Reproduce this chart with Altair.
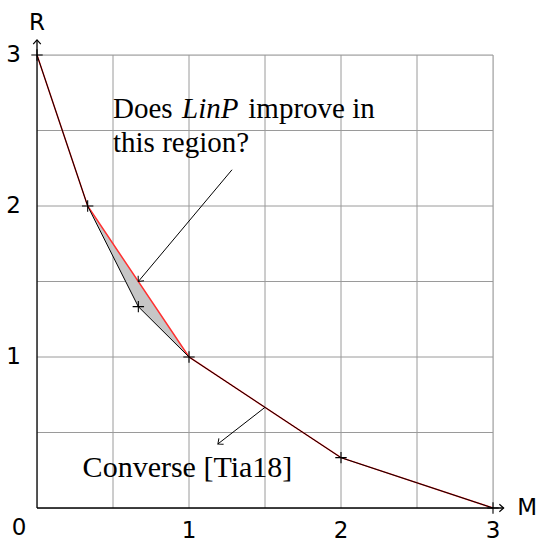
import math
import altair as alt
import pandas as pd

# ---- data ----
red_x = [0, 1/3, 1, 2, 3]
red_y = [3, 2, 1, 1/3, 0]
black_x = [0, 1/3, 2/3, 1, 2, 3]
black_y = [3, 2, 4/3, 1, 1/3, 0]
fill_x = [1/3, 2/3, 1]
fill_low = [2, 4/3, 1]
fill_high = [2, 1.5, 1]
grid_vals = [0.5, 1, 1.5, 2, 2.5, 3]
tick_vals = [1, 2, 3]
tick_labels = ["1", "2", "3"]
arrow_x = [1.283, 1.5]
arrow_y = [2.24, 2/3]
arrow_x2 = [2/3, 1.19]
arrow_y2 = [1.5, 0.424]
axis_end = [3.07, 3.1]

XS = alt.Scale(domain=[0, 3], nice=False, zero=False)
YS = alt.Scale(domain=[0, 3], nice=False, zero=False)


def X(f):
    return alt.X(f, type="quantitative", scale=XS, axis=None)


def Y(f):
    return alt.Y(f, type="quantitative", scale=YS, axis=None)


SANS = "DejaVu Sans"
SERIF = "Liberation Serif"

grid_df = pd.DataFrame({"v": grid_vals})
vgrid = alt.Chart(grid_df).mark_rule(color="#9a9a9a", strokeWidth=1).encode(
    x=X("v"), y=alt.value(0), y2=alt.value(453))
hgrid = alt.Chart(grid_df).mark_rule(color="#9a9a9a", strokeWidth=1).encode(
    y=Y("v"), x=alt.value(0), x2=alt.value(456))

fill_df = pd.DataFrame({"x": fill_x, "lo": fill_low, "hi": fill_high})
fill = alt.Chart(fill_df).mark_area(color="#c6c6c6", opacity=1).encode(
    x=X("x"), y=Y("lo"), y2=alt.Y2("hi"))

red_df = pd.DataFrame({"x": red_x, "y": red_y, "o": range(len(red_x))})
red = alt.Chart(red_df).mark_line(color="#ff3030", strokeWidth=1.5).encode(
    x=X("x"), y=Y("y"), order="o:Q")

blk_df = pd.DataFrame({"x": black_x, "y": black_y, "o": range(len(black_x))})
blk = alt.Chart(blk_df).mark_line(color="black", strokeWidth=1.0).encode(
    x=X("x"), y=Y("y"), order="o:Q")

crosses = alt.Chart(blk_df).mark_point(
    shape="M -1 0 L 1 0 M 0 -1 L 0 1", size=130, filled=False,
    color="black", strokeWidth=1.1, opacity=1).encode(x=X("x"), y=Y("y"))

# axes
xaxis_df = pd.DataFrame({"x": [0], "x2": [axis_end[0]], "y": [0]})
xaxis = alt.Chart(xaxis_df).mark_rule(color="black", strokeWidth=1.3).encode(
    x=X("x"), x2=alt.X2("x2"), y=Y("y"))
yaxis_df = pd.DataFrame({"y": [0], "y2": [axis_end[1]], "x": [0]})
yaxis = alt.Chart(yaxis_df).mark_rule(color="black", strokeWidth=1.3).encode(
    y=Y("y"), y2=alt.Y2("y2"), x=X("x"))

CHEV = "M -0.8 0.9 L 0 0 L 0.8 0.9"
xhead = alt.Chart(pd.DataFrame({"x": [axis_end[0]], "y": [0]})).mark_point(
    shape=CHEV, size=90, filled=False, color="black", strokeWidth=1.2,
    angle=90, opacity=1).encode(x=X("x"), y=Y("y"))
yhead = alt.Chart(pd.DataFrame({"x": [0], "y": [axis_end[1]]})).mark_point(
    shape=CHEV, size=90, filled=False, color="black", strokeWidth=1.2,
    angle=0, opacity=1).encode(x=X("x"), y=Y("y"))

# tick labels
yt_df = pd.DataFrame({"v": tick_vals, "t": tick_labels, "z": [0] * 3})
ylab = alt.Chart(yt_df).mark_text(font=SANS, fontSize=23, align="right",
                                  baseline="middle", dx=-16).encode(
    x=X("z"), y=Y("v"), text="t:N")
xlab = alt.Chart(yt_df).mark_text(font=SANS, fontSize=23, align="center",
                                  baseline="middle", dy=23).encode(
    x=X("v"), y=Y("z"), text="t:N")
zero = alt.Chart(pd.DataFrame({"v": [0], "t": ["0"]})).mark_text(
    font=SANS, fontSize=23, align="center", baseline="middle", dx=-18, dy=20).encode(
    x=X("v"), y=Y("v"), text="t:N")

rlab = alt.Chart(pd.DataFrame({"x": [0], "y": [3.166], "t": ["R"]})).mark_text(
    font=SANS, fontSize=23, align="center", baseline="alphabetic").encode(
    x=X("x"), y=Y("y"), text="t:N")
mlab = alt.Chart(pd.DataFrame({"x": [3.16], "y": [0], "t": ["M"]})).mark_text(
    font=SANS, fontSize=23, align="left", baseline="middle").encode(
    x=X("x"), y=Y("y"), text="t:N")

# annotation texts
ann_df = pd.DataFrame({
    "x": [0.5, 1.39, 0.5],
    "y": [2.583, 2.583, 2.358],
    "t": ["Does", "improve in", "this region?"],
})
ann = alt.Chart(ann_df).mark_text(font=SERIF, fontSize=29, align="left",
                                  baseline="alphabetic", color="black").encode(
    x=X("x"), y=Y("y"), text="t:N")
ital = alt.Chart(pd.DataFrame({"x": [0.954], "y": [2.583], "t": ["LinP"]})).mark_text(
    font=SERIF, fontSize=29, fontStyle="italic", align="left",
    baseline="alphabetic", color="black").encode(x=X("x"), y=Y("y"), text="t:N")
conv = alt.Chart(pd.DataFrame({"x": [0.99], "y": [0.205], "t": ["Converse [Tia18]"]})).mark_text(
    font=SERIF, fontSize=30, align="center", baseline="alphabetic", color="black").encode(
    x=X("x"), y=Y("y"), text="t:N")

# arrows
angles = [(math.degrees(math.atan2(x2 - x1, y2 - y1)) + 360) % 360
          for x1, y1, x2, y2 in zip(arrow_x, arrow_y, arrow_x2, arrow_y2)]
arr_df = pd.DataFrame({"x": arrow_x, "y": arrow_y, "x2": arrow_x2,
                       "y2": arrow_y2, "a": angles})
shafts = alt.Chart(arr_df).mark_rule(color="black", strokeWidth=1.0).encode(
    x=X("x"), y=Y("y"), x2=alt.X2("x2"), y2=alt.Y2("y2"))
heads = alt.Chart(arr_df).mark_point(shape=CHEV, size=90, filled=False,
                                     color="black", strokeWidth=1.0, opacity=1).encode(
    x=X("x2"), y=Y("y2"), angle=alt.Angle("a:Q", scale=None))

chart = alt.layer(
    vgrid, hgrid, fill, red, blk, crosses, xaxis, yaxis, xhead, yhead,
    ylab, xlab, zero, rlab, mlab, ann, ital, conv, shafts, heads,
).properties(
    width=456, height=453,
    autosize=alt.AutoSizeParams(type="none"),
    padding={"left": 37, "top": 55, "right": 49, "bottom": 35},
).configure_view(stroke=None).configure(background="white")

chart.save("out.html", embed_options={"renderer": "svg", "actions": False})
